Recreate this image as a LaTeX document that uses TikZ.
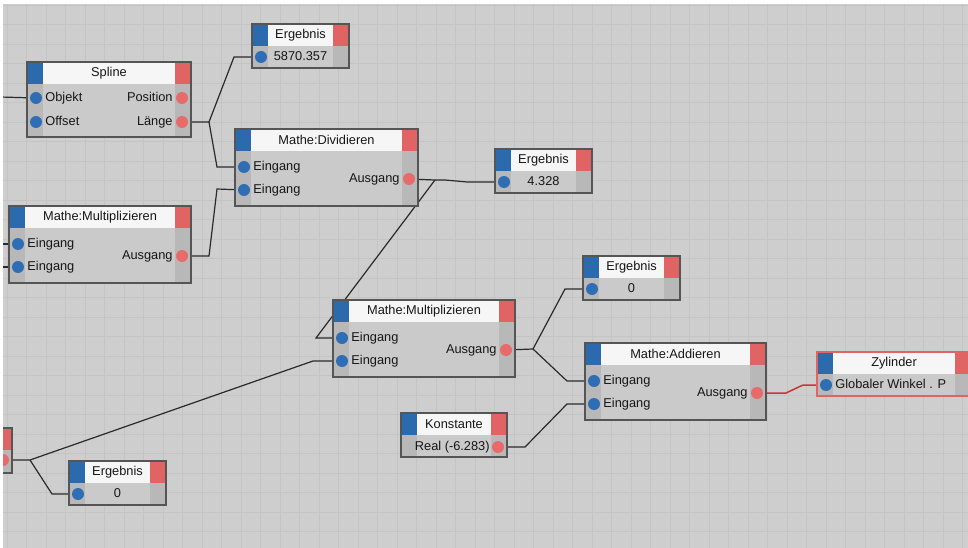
\documentclass[tikz,border=0pt]{standalone}
\usepackage{fontspec}
\setmainfont{Liberation Sans}
\usetikzlibrary{positioning}
\definecolor{canvas}{HTML}{CECECE}
\definecolor{gridcol}{HTML}{C4C4C4}
\definecolor{bodygray}{HTML}{CACACA}
\definecolor{stripgray}{HTML}{B8B8B8}
\definecolor{headwhite}{HTML}{F6F6F6}
\definecolor{capblue}{HTML}{2C6AAE}
\definecolor{capred}{HTML}{E06464}
\definecolor{portblue}{HTML}{2F6EB5}
\definecolor{portred}{HTML}{E86B6B}
\definecolor{framegray}{HTML}{555555}
\definecolor{wiregray}{HTML}{2A2A2A}
\definecolor{wirered}{HTML}{CC3535}
\definecolor{textblack}{HTML}{161616}
\def\headh{22pt}
\def\capw{16pt}
\pgfdeclarelayer{bg}
\pgfdeclarelayer{wires}
\pgfsetlayers{bg,wires,main}

% one node box: [frame style]{name}{left}{top}{width}{height}{title}
\newcommand{\gbox}[7][boxframe]{%
  \node[box, minimum width=#5pt, minimum height=#6pt] (#2) at (#3,#4) {};
  \fill[stripfill] ([yshift=-\headh]#2.north west) rectangle ([xshift=\capw]#2.south west);
  \fill[stripfill] ([yshift=-\headh]#2.north east) rectangle ([xshift=-\capw]#2.south east);
  \fill[headfill] ([xshift=\capw]#2.north west) rectangle ([xshift=-\capw,yshift=-\headh]#2.north east);
  \fill[capblue] (#2.north west) rectangle ([xshift=\capw,yshift=-\headh]#2.north west);
  \fill[capred] (#2.north east) rectangle ([xshift=-\capw,yshift=-\headh]#2.north east);
  \node[boxtitle] (#2-title) at ([yshift=-11pt]#2.north) {#7};
  \draw[#1] (#2.north west) rectangle (#2.south east);
}

\begin{document}
\begin{tikzpicture}[x=1pt,y=-1pt, font=\fontsize{12.8}{15}\selectfont]
    \tikzstyle{box}=[anchor=north west, fill=bodygray, inner sep=0pt, outer sep=0pt]
    \tikzstyle{stripfill}=[fill=stripgray]
    \tikzstyle{headfill}=[fill=headwhite]
    \tikzstyle{boxframe}=[draw=framegray, line width=1.3pt]
    \tikzstyle{red frame}=[draw=capred, line width=1.6pt]
    \tikzstyle{boxtitle}=[text=textblack, inner sep=0pt]
    \tikzstyle{port}=[circle, minimum size=12pt, inner sep=0pt]
    \tikzstyle{in port}=[port, fill=portblue]
    \tikzstyle{out port}=[port, fill=portred]
    \tikzstyle{portlabel}=[text=textblack, inner sep=1pt, text height=9pt, text depth=2.5pt]
    \tikzstyle{readout}=[portlabel]
    \tikzstyle{gridline}=[draw=gridcol, line width=0.7pt]
    \tikzstyle{wire}=[draw=wiregray, line width=1.2pt]
    \tikzstyle{red wire}=[draw=wirered, line width=1.5pt]

    \useasboundingbox (0,0) rectangle (968,548);

    % Draw the grid of the editor
    \begin{pgfonlayer}{bg}
        \fill[white] (0,0) rectangle (968,548);
        \fill[canvas] (3,4) rectangle (968,548);
        \foreach \x in {7.2,26.7,...,968}
            \draw[gridline] (\x,4) -- (\x,548);
        \foreach \y in {5.2,24.7,...,548}
            \draw[gridline] (3,\y) -- (968,\y);
    \end{pgfonlayer}

    % Draw the spline node
    \gbox{spline}{27}{62}{164}{75}{Spline}
    \node[in port] (spline-in1) at (36,98) {};
    \node[in port] (spline-in2) at (36,122) {};
    \node[out port] (spline-out1) at (182,98) {};
    \node[out port] (spline-out2) at (182,122) {};
    \node[portlabel, right=2pt of spline-in1] (spline-l1) {Objekt};
    \node[portlabel, right=2pt of spline-in2] (spline-l2) {Offset};
    \node[portlabel, left=2pt of spline-out1] (spline-r1) {Position};
    \node[portlabel, left=2pt of spline-out2] (spline-r2) {Länge};

    % Draw the two-input math nodes
    \foreach \name/\x/\y/\w/\title in {div/235/129/183/Mathe:Dividieren,
            mull/9/206/182/Mathe:Multiplizieren,
            mulc/333/300/182/Mathe:Multiplizieren,
            add/585/343/181/Mathe:Addieren} {
        \gbox{\name}{\x}{\y}{\w}{77}{\title}
        \node[in port] (\name-in1) at (\x+9,\y+38) {};
        \node[in port] (\name-in2) at (\x+9,\y+61) {};
        \node[out port] (\name-out) at (\x+\w-9,\y+50) {};
        \node[portlabel, right=2pt of \name-in1] (\name-l1) {Eingang};
        \node[portlabel, right=2pt of \name-in2] (\name-l2) {Eingang};
        \node[portlabel, left=2pt of \name-out] (\name-r) {Ausgang};
    }

    % Draw the result nodes
    \foreach \name/\x/\y/\val in {erg1/252/24/5870.357, erg2/495/149/4.328,
            erg3/583/256/0, erg4/69/461/0} {
        \gbox{\name}{\x}{\y}{97}{44}{Ergebnis}
        \node[in port] (\name-in) at (\x+9,\y+33) {};
        \node[readout] (\name-val) at (\name.center |- \name-in) {\val};
    }

    % Draw the constant, the cylinder and the node cut off at the left
    \gbox{konst}{401}{413}{106}{44}{Konstante}
    \node[out port] (konst-out) at (498,447) {};
    \node[portlabel, left=1pt of konst-out] (konst-r) {Real (-6.283)};
    \gbox[red frame]{zyl}{817}{352}{154}{44}{Zylinder}
    \node[in port] (zyl-in) at (826,385) {};
    \node[portlabel, right=2pt of zyl-in] (zyl-l) {Globaler Winkel . P};
    \gbox{part}{-170}{428}{182}{45}{}
    \node[out port] (part-out) at (3,460) {};

    % Connect the ports
    \begin{pgfonlayer}{wires}
        \coordinate (edge-obj) at (0,97);
        \coordinate (edge-m1) at (0,244);
        \coordinate (edge-m2) at (0,267);
        \coordinate (j-len) at (209,122);
        \coordinate (j-mull) at (209,256);
        \coordinate (j-div) at (435,180);
        \coordinate (j-part) at (30,460);
        \coordinate (j-mulc) at (533,349);
        \coordinate (j-konst) at (525,447);
        \coordinate (j-add) at (786,393);
        \draw[wire] (edge-obj) -- (spline-in1);
        \draw[wire] (edge-m1) -- (mull-in1);
        \draw[wire] (edge-m2) -- (mull-in2);
        \draw[wire] (spline-out2) -- (j-len) -- ++(25,-65) -- (erg1-in);
        \draw[wire] (j-len) -- ++(8,45) -- (div-in1);
        \draw[wire] (mull-out) -- (j-mull) -- ++(8,-67) -- (div-in2);
        \draw[wire] (div-out) -- (j-div) -- ++(10,0) -- ++(22,2) -- (erg2-in);
        \draw[wire] (j-div) -- ++(-119,158) -- (mulc-in1);
        \draw[wire] (part-out) -- (j-part) -- ++(283,-99) -- (mulc-in2);
        \draw[wire] (j-part) -- ++(22,34) -- (erg4-in);
        \draw[wire] (mulc-out) -- (j-mulc) -- ++(32,-60) -- (erg3-in);
        \draw[wire] (j-mulc) -- ++(34,32) -- (add-in1);
        \draw[wire] (konst-out) -- (j-konst) -- ++(42,-43) -- (add-in2);
        \draw[red wire] (add-out) -- (j-add) -- ++(17,-8) -- (zyl-in);
    \end{pgfonlayer}

    % White margin of the screenshot
    \fill[white] (0,0) rectangle (3,548);
    \fill[white] (0,0) rectangle (968,4);
\end{tikzpicture}
\end{document}
